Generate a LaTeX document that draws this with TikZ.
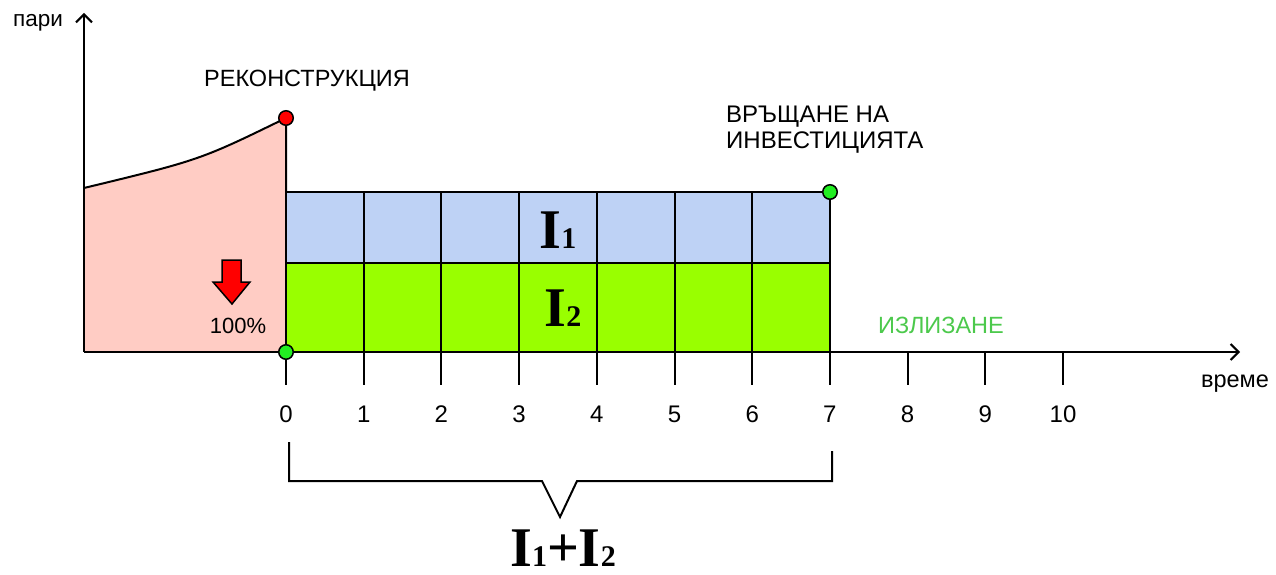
\documentclass[tikz,border=0pt]{standalone}
\usepackage{fontspec}
\setmainfont{Liberation Sans}
\newfontfamily\tms{Liberation Serif}
\usetikzlibrary{arrows.meta}
\definecolor{pinkf}{HTML}{FFCCC4}
\definecolor{bluef}{HTML}{BED2F5}
\definecolor{greenf}{HTML}{99FF00}
\definecolor{dotg}{HTML}{22EE22}
\definecolor{wearg}{HTML}{4CC94C}
\newcommand{\bigI}[1]{{\tms\bfseries\fontsize{56}{56}\selectfont I\fontsize{30}{30}\selectfont #1}}
\begin{document}
\begin{tikzpicture}[x=1pt,y=-1pt,
  ln/.style={line width=2pt},
  axisarrow/.style={line width=2pt,-{Straight Barb[length=8pt,width=16pt,line width=2pt]}},
  lbl/.style={inner sep=0pt,anchor=base,font=\fontsize{23.5}{28}\selectfont},
  dot/.style={circle,draw=black,line width=1.5pt,inner sep=0pt,minimum size=14.5pt}]
\useasboundingbox (0,0) rectangle (1276,575);
% pink region
\fill[pinkf] (84,188) .. controls (200,160) .. (286,118) -- (286,352) -- (84,352) -- cycle;
\draw[ln] (84,188) .. controls (200,160) .. (286,118) -- (286,352);
% bands
\fill[bluef] (286,192) rectangle (830,263);
\fill[greenf] (286,263) rectangle (830,352);
\draw[ln] (286,192) -- (830,192);
\draw[ln] (286,263) -- (830,263);
% vertical grid lines / ticks
\foreach \i in {0,...,7} {
  \draw[ln] ({286+77.7*\i},192) -- ({286+77.7*\i},385);
}
\foreach \i in {8,9,10} {
  \draw[ln] ({286+77.7*\i},352) -- ({286+77.7*\i},385);
}
\foreach \i in {0,...,10} {
  \node[lbl,font=\fontsize{24}{28}\selectfont] (t\i) at ({286+77.7*\i},422) {\i};
}
% axes
\coordinate (o) at (84,352);
\coordinate (ytip) at (84,13);
\coordinate (xtip) at (1240,352);
\draw[axisarrow] (o) -- (ytip);
\draw[axisarrow] (o) -- (xtip);
% dots
\node[dot,fill=red] (rec) at (286,118) {};
\node[dot,fill=dotg] (ret) at (830,192) {};
\node[dot,fill=dotg] (zero) at (286,352) {};
% red arrow
\draw[line width=1.5pt,fill=red,line join=miter] (222,260) -- (241,260) -- (241,282) -- (250,282) -- (232,304) -- (213,282) -- (222,282) -- cycle;
% labels
\node[lbl,font=\fontsize{22.5}{26}\selectfont] (pari) at (38,27) {пари};
\node[lbl] (recon) at (307,87) {РЕКОНСТРУКЦИЯ};
\node[lbl,anchor=base west,font=\fontsize{24}{28}\selectfont] (ret1) at (726,123) {ВРЪЩАНЕ НА};
\node[lbl,anchor=base west,font=\fontsize{24}{28}\selectfont] (ret2) at (726,149) {ИНВЕСТИЦИЯТА};
\node[lbl,text=wearg] (wear) at (941,333) {ИЗЛИЗАНЕ};
\node[lbl] (vreme) at (1235,387) {време};
\node[lbl,font=\fontsize{22}{26}\selectfont] (pct) at (238,333) {100\%};
\node[inner sep=0pt,anchor=base] (i1) at (558,248) {\bigI{1}};
\node[inner sep=0pt,anchor=base] (i2) at (563,326) {\bigI{2}};
% brace
\draw[ln,line join=miter] (289,442) -- (289,481) -- (542,481) -- (560,517) -- (577,481) -- (832,481) -- (832,451);
\node[inner sep=0pt,anchor=base,text depth=0pt] (sum) at (563,566) {{\tms\bfseries\fontsize{56}{56}\selectfont I\fontsize{30}{30}\selectfont 1\fontsize{56}{56}\selectfont +I\fontsize{30}{30}\selectfont 2}};
\end{tikzpicture}
\end{document}
